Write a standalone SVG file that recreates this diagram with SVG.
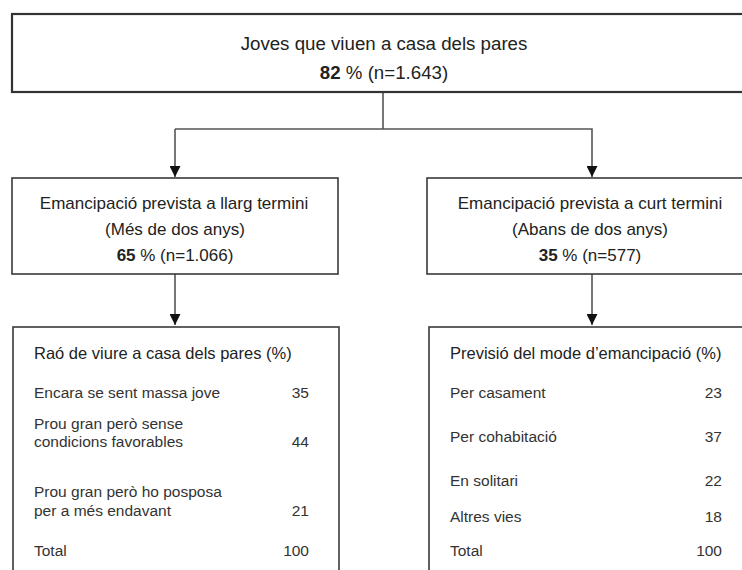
<svg xmlns="http://www.w3.org/2000/svg" width="742" height="570" viewBox="0 0 742 570">
<defs>
<style>
text{font-family:"Liberation Sans",Arial,sans-serif;fill:#222}
.t1{font-size:18.7px}
.t2{font-size:17px}
.h{font-size:16.5px}
.it{font-size:15.5px;fill:#333}
.c{text-anchor:middle}
.r{text-anchor:end}
.b{font-weight:bold}
.box{fill:#fff;stroke:#3a3a3a;stroke-width:1.6}
.topbox{fill:#fff;stroke:#333;stroke-width:2.2}
.ln{fill:none;stroke:#555;stroke-width:1.6}
</style>
<marker id="ah" markerWidth="12" markerHeight="11" refX="11" refY="5.5" orient="auto" markerUnits="userSpaceOnUse">
<path d="M0,0 L11,5.5 L0,11 Z" fill="#111"/>
</marker>
</defs>
<rect width="742" height="570" fill="#fff"/>
<g id="connectors">
<line class="ln" x1="383" y1="92" x2="383" y2="129"/>
<polyline class="ln" points="175,129 592,129 592,177" marker-end="url(#ah)"/>
<line class="ln" x1="175" y1="129" x2="175" y2="177" marker-end="url(#ah)"/>
<line class="ln" x1="175" y1="274" x2="175" y2="325" marker-end="url(#ah)"/>
<line class="ln" x1="592" y1="274" x2="592" y2="325" marker-end="url(#ah)"/>
</g>
<g id="top">
<rect class="topbox" x="12" y="14" width="760" height="78"/>
<text class="t1 c" x="384" y="50">Joves que viuen a casa dels pares</text>
<text class="t1 c" x="384" y="79"><tspan class="b">82</tspan> % (n=1.643)</text>
</g>
<g id="long">
<rect class="box" x="12" y="178" width="326" height="96"/>
<text class="t2 c" x="174" y="209">Emancipació prevista a llarg termini</text>
<text class="t2 c" x="175" y="235">(Més de dos anys)</text>
<text class="t2 c" x="175" y="261"><tspan class="b">65</tspan> % (n=1.066)</text>
</g>
<g id="short">
<rect class="box" x="427" y="178" width="330" height="96"/>
<text class="t2 c" x="590" y="209">Emancipació prevista a curt termini</text>
<text class="t2 c" x="590" y="235">(Abans de dos anys)</text>
<text class="t2 c" x="590" y="261"><tspan class="b">35</tspan> % (n=577)</text>
</g>
<g id="reasons">
<rect class="box" x="13" y="327" width="326" height="260"/>
<text class="h" x="34" y="359">Raó de viure a casa dels pares (%)</text>
<text class="it" x="34" y="398">Encara se sent massa jove</text>
<text class="it r" x="309" y="398">35</text>
<text class="it" x="34" y="429">Prou gran però sense</text>
<text class="it" x="34" y="447">condicions favorables</text>
<text class="it r" x="309" y="447">44</text>
<text class="it" x="34" y="497">Prou gran però ho posposa</text>
<text class="it" x="34" y="516">per a més endavant</text>
<text class="it r" x="309" y="516">21</text>
<text class="it" x="34" y="556">Total</text>
<text class="it r" x="309" y="556">100</text>
</g>
<g id="modes">
<rect class="box" x="429" y="327" width="330" height="260"/>
<text class="h" x="450" y="359">Previsió del mode d’emancipació (%)</text>
<text class="it" x="450" y="398">Per casament</text>
<text class="it r" x="722" y="398">23</text>
<text class="it" x="450" y="442">Per cohabitació</text>
<text class="it r" x="722" y="442">37</text>
<text class="it" x="450" y="486">En solitari</text>
<text class="it r" x="722" y="486">22</text>
<text class="it" x="450" y="522">Altres vies</text>
<text class="it r" x="722" y="522">18</text>
<text class="it" x="450" y="556">Total</text>
<text class="it r" x="722" y="556">100</text>
</g>
</svg>
